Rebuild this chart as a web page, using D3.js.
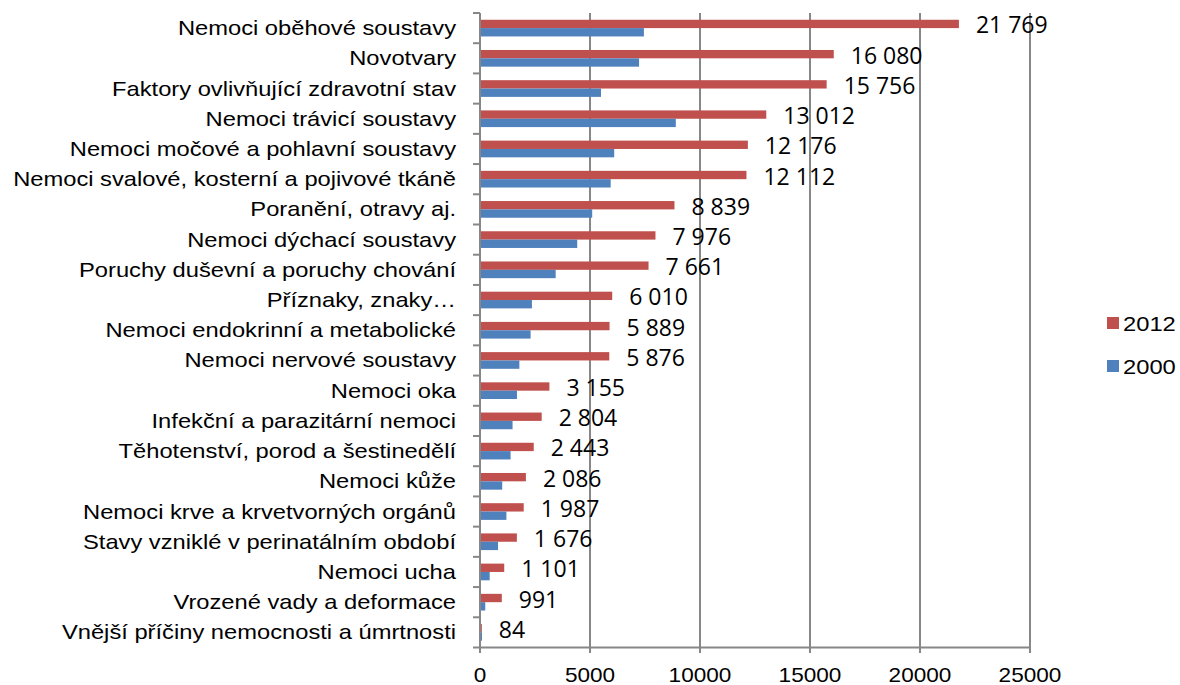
<!DOCTYPE html>
<html><head><meta charset="utf-8">
<script src="https://cdn.jsdelivr.net/npm/d3@7"></script>
<style>body{margin:0;background:#fff}svg{display:block}</style>
</head><body>
<svg id="c" width="1180" height="685"></svg>
<script>
const categories = [
 "Nemoci oběhové soustavy","Novotvary","Faktory ovlivňující zdravotní stav","Nemoci trávicí soustavy",
 "Nemoci močové a pohlavní soustavy","Nemoci svalové, kosterní a pojivové tkáně","Poranění, otravy aj.",
 "Nemoci dýchací soustavy","Poruchy duševní a poruchy chování","Příznaky, znaky…","Nemoci endokrinní a metabolické",
 "Nemoci nervové soustavy","Nemoci oka","Infekční a parazitární nemoci","Těhotenství, porod a šestinedělí",
 "Nemoci kůže","Nemoci krve a krvetvorných orgánů","Stavy vzniklé v perinatálním období","Nemoci ucha",
 "Vrozené vady a deformace","Vnější příčiny nemocnosti a úmrtnosti"];
const values2012 = [21769,16080,15756,13012,12176,12112,8839,7976,7661,6010,5889,5876,3155,2804,2443,2086,1987,1676,1101,991,84];
const values2000 = [7450,7230,5500,8900,6100,5940,5100,4420,3440,2360,2300,1790,1680,1480,1390,1010,1200,820,440,240,90];
const seriesNames = ["2012","2000"];
const xTicks = [0,5000,10000,15000,20000,25000];
const colors = {"2012":"#C0504D","2000":"#4F81BD"};

const svg = d3.select("#c");
const SX = 1.13;
const grid = "#878787";
const x = d3.scaleLinear().domain([0,25000]).range([480,1030]);
const y = d3.scaleBand().domain(categories).range([13,647.5]).padding(0);
const yi = d3.scaleBand().domain(seriesNames).range([0,y.bandwidth()]).paddingInner(0).paddingOuter(0.81);
const fmt = v => d3.format(",")(v).replace(/,/g," ");

// gridlines
svg.append("g").selectAll("line").data(xTicks.slice(1)).join("line")
  .attr("x1",d=>x(d)).attr("x2",d=>x(d)).attr("y1",13).attr("y2",653)
  .attr("stroke",grid).attr("stroke-width",2);

// bars
const rows = categories.map((c,i)=>({c, v:{"2012":values2012[i],"2000":values2000[i]}}));
const g = svg.append("g");
rows.forEach(r=>{
  seriesNames.forEach(s=>{
    g.append("rect").attr("x",x(0)).attr("y",y(r.c)+yi(s))
      .attr("width",x(r.v[s])-x(0)).attr("height",yi.bandwidth())
      .attr("fill",colors[s]);
  });
});

// axes lines
svg.append("line").attr("x1",x(0)).attr("x2",x(0)).attr("y1",13).attr("y2",653).attr("stroke",grid).attr("stroke-width",2);
svg.append("line").attr("x1",x(0)).attr("x2",x(25000)+1).attr("y1",647.5).attr("y2",647.5).attr("stroke",grid).attr("stroke-width",2);
// category ticks
const bounds = categories.map(c=>y(c)).concat([y.range()[1]]);
svg.append("g").selectAll("line").data(bounds).join("line")
  .attr("x1",473).attr("x2",x(0)).attr("y1",d=>d).attr("y2",d=>d)
  .attr("stroke",grid).attr("stroke-width",2);

function stext(sel, px, py, sx){ return sel.attr("transform",`translate(${px},${py}) scale(${sx===undefined?SX:sx},1)`); }

// category labels
categories.forEach(c=>{
  stext(svg.append("text"), 456, y(c)+y.bandwidth()/2)
    .attr("text-anchor","end").attr("dominant-baseline","central")
    .attr("font-family","Liberation Sans, Arial, sans-serif").attr("font-size",21)
    .attr("fill","#000").text(c);
});

// x tick labels
xTicks.forEach(t=>{
  stext(svg.append("text"), x(t), 675)
    .attr("text-anchor","middle").attr("dominant-baseline","central")
    .attr("font-family","Liberation Sans, Arial, sans-serif").attr("font-size",20)
    .attr("fill","#000").text(t);
});

// value labels
rows.forEach(r=>{
  stext(svg.append("text"), x(r.v["2012"])+17, y(r.c)+yi("2012")+yi.bandwidth()/2+0.5, 1)
    .attr("text-anchor","start").attr("dominant-baseline","central")
    .attr("font-family","Open Sans, sans-serif").attr("font-size",23)
    .attr("fill","#000").text(fmt(r.v["2012"]));
});

// legend
const leg = [{s:"2012",y:323},{s:"2000",y:366}];
leg.forEach(l=>{
  svg.append("rect").attr("x",1107).attr("y",l.y-6).attr("width",12).attr("height",12).attr("fill",colors[l.s]);
  stext(svg.append("text"), 1123, l.y+1)
    .attr("dominant-baseline","central")
    .attr("font-family","Liberation Sans, Arial, sans-serif").attr("font-size",21)
    .attr("fill","#000").text(l.s);
});
</script>
</body></html>
